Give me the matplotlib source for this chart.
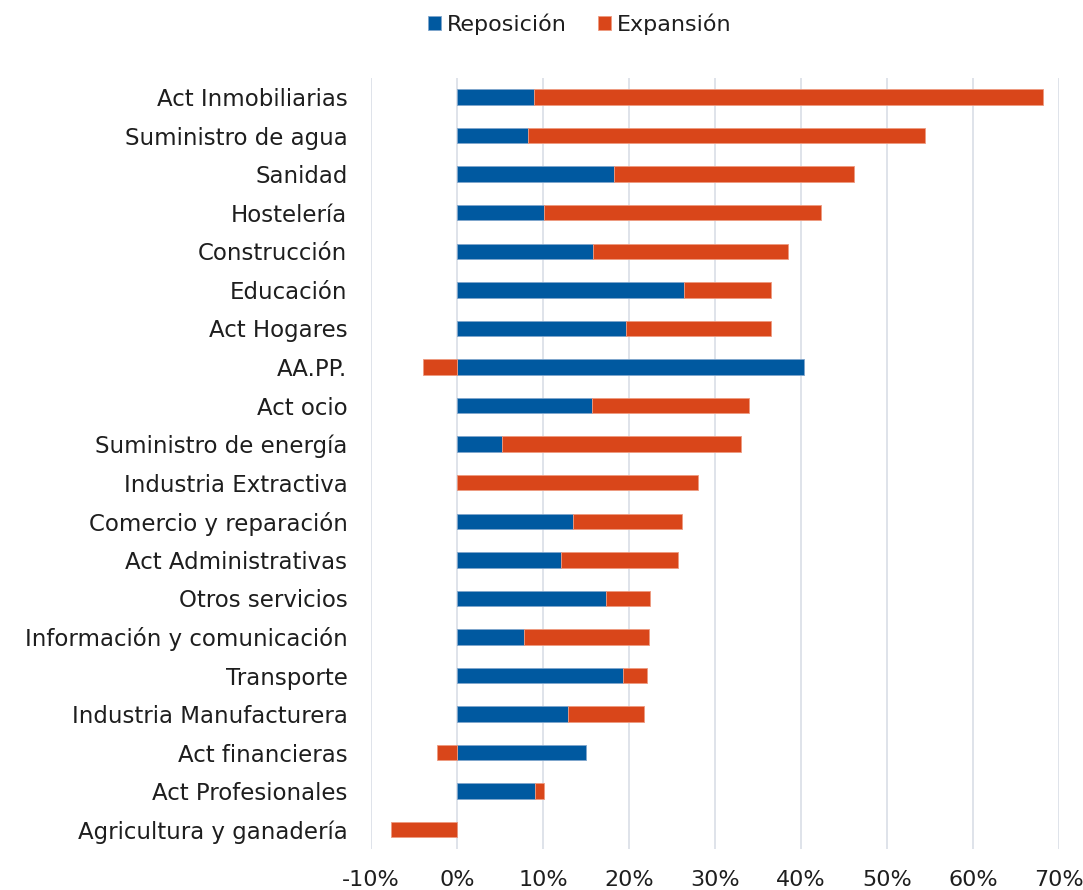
import matplotlib
matplotlib.use('Agg')
import matplotlib.pyplot as plt
import numpy as np

plt.rcParams['font.family'] = ['DejaVu Sans']

# sectores, de arriba a abajo
sectores = ['Act Inmobiliarias', 'Suministro de agua', 'Sanidad', 'Hostelería',
            'Construcción', 'Educación', 'Act Hogares', 'AA.PP.', 'Act ocio',
            'Suministro de energía', 'Industria Extractiva', 'Comercio y reparación',
            'Act Administrativas', 'Otros servicios', 'Información y comunicación',
            'Transporte', 'Industria Manufacturera', 'Act financieras',
            'Act Profesionales', 'Agricultura y ganadería']
reposicion = [8.9, 8.3, 18.2, 10.1, 15.8, 26.4, 19.7, 40.3, 15.7, 5.2,
              0.0, 13.5, 12.1, 17.3, 7.8, 19.3, 12.9, 15.0, 9.1, 0.0]
expansion = [59.2, 46.1, 28.0, 32.2, 22.7, 10.1, 16.8, -3.9, 18.3, 27.8,
             28.0, 12.7, 13.6, 5.1, 14.5, 2.8, 8.8, -2.3, 1.0, -7.7]

azul = '#0059A0'
naranja = '#D9461A'

rep = np.array(reposicion)
exp = np.array(expansion)
y = np.arange(len(sectores))[::-1]
# Excel apila los negativos desde cero
left_exp = np.where(exp >= 0, np.maximum(rep, 0), np.minimum(rep, 0))

fig = plt.figure(figsize=(10.83, 8.9), dpi=100)
ax = fig.add_axes([0.3426, 0.046, 0.6352, 0.8667])

ax.barh(y, rep, height=0.4, color=azul, edgecolor='#7FA6CC', linewidth=0.6,
        label='Reposición', zorder=3)
ax.barh(y, exp, left=left_exp, height=0.4, color=naranja, edgecolor='#EE9A80',
        linewidth=0.6, label='Expansión', zorder=3)

ax.set_xlim(-10, 70)
ax.set_ylim(-0.5, len(sectores) - 0.5)
ax.set_xticks(range(-10, 71, 10))
ax.set_xticklabels([f'{v}%' for v in range(-10, 71, 10)])
ax.set_yticks(y)
ax.set_yticklabels(sectores)
ax.grid(axis='x', color='#D9DEE6', linewidth=1.2, zorder=0)
for s in ax.spines.values():
    s.set_visible(False)
ax.tick_params(axis='both', length=0, colors='#1E1E1E')
ax.tick_params(axis='y', pad=17, labelsize=16.5)
ax.tick_params(axis='x', pad=15, labelsize=16)

fig.legend(loc='upper center', bbox_to_anchor=(0.535, 1.007), ncol=2, frameon=False,
           fontsize=16, handlelength=0.6, handleheight=0.6, handletextpad=0.25,
           columnspacing=1.4, labelcolor='#1E1E1E')

fig.savefig('out.png', dpi=100)
